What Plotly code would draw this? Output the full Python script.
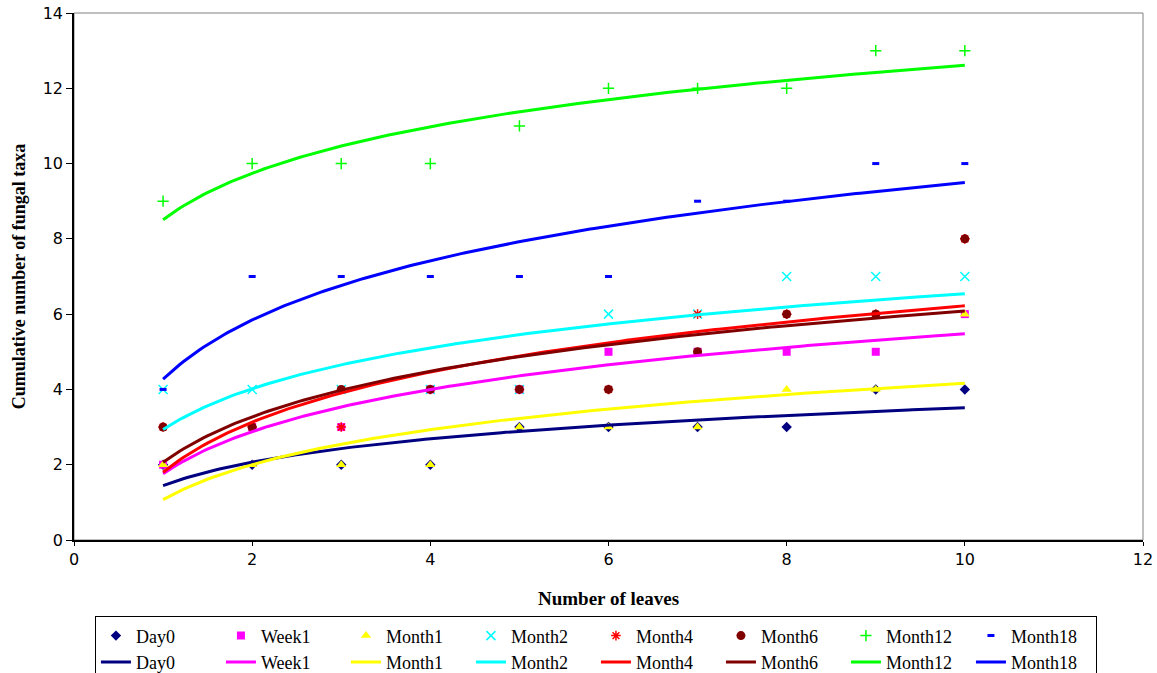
import numpy as np
import plotly.graph_objects as go

leaves = [1, 2, 3, 4, 5, 6, 7, 8, 9, 10]
series_names = ["Day0", "Week1", "Month1", "Month2", "Month4", "Month6", "Month12", "Month18"]
day0 = [2, 2, 2, 2, 3, 3, 3, 3, 4, 4]
week1 = [2, 3, 3, 4, 4, 5, 5, 5, 5, 6]
month1 = [2, 2, 2, 2, 3, 3, 3, 4, 4, 6]
month2 = [4, 4, 4, 4, 4, 6, 6, 7, 7, 7]
month4 = [3, 3, 3, 4, 4, 4, 6, 6, 6, 8]
month6 = [3, 3, 4, 4, 4, 4, 5, 6, 6, 8]
month12 = [9, 10, 10, 10, 11, 12, 12, 12, 13, 13]
month18 = [4, 7, 7, 7, 7, 7, 9, 9, 10, 10]
values = [day0, week1, month1, month2, month4, month6, month12, month18]

colors = ["#000080", "#FF00FF", "#FFFF00", "#00FFFF", "#FF0000", "#800000", "#00FF00", "#0000FF"]
symbols = ["diamond", "square", "triangle-up", "x-thin-open", "asterisk-open", "circle", "cross-thin-open", "line-ew-open"]
sizes = [8, 8, 9, 9, 8, 9, 8, 5]

fig = go.Figure()

for name, ys, c, s, sz in zip(series_names, values, colors, symbols, sizes):
    open_sym = s.endswith("-open")
    lw = 3 if s == "line-ew-open" else 1.5
    fig.add_trace(go.Scatter(
        x=leaves, y=ys, mode="markers", name=name,
        marker=dict(symbol=s, size=sz, color=c,
                    line=dict(color=c, width=lw if open_sym else 0)),
    ))

xs = np.linspace(min(leaves), max(leaves), 200)
for name, ys, c in zip(series_names, values, colors):
    b, a = np.polyfit(np.log(leaves), ys, 1)
    fig.add_trace(go.Scatter(
        x=xs, y=a + b * np.log(xs), mode="lines", name=name,
        line=dict(color=c, width=3),
    ))

tickfont = dict(family="DejaVu Sans", size=16, color="black")

fig.update_layout(
    width=1157, height=673,
    margin=dict(l=74, r=14, t=13, b=133, autoexpand=False),
    plot_bgcolor="white", paper_bgcolor="white",
    showlegend=True,
    legend=dict(
        orientation="h", x=0.0196, xanchor="left", y=-0.145, yanchor="top",
        bordercolor="black", borderwidth=1, bgcolor="white",
        font=dict(family="Liberation Serif", size=18, color="black"),
        entrywidth=80, entrywidthmode="pixels",
        tracegroupgap=0, itemwidth=30,
    ),
    xaxis=dict(
        range=[0, 12], dtick=2, tick0=0, showgrid=False, zeroline=False,
        showline=True, linecolor="black", linewidth=1.5,
        ticks="outside", ticklen=4, tickcolor="black",
        tickfont=tickfont,
        title=dict(text="<b>Number of leaves</b>",
                   font=dict(family="Liberation Serif", size=19, color="black"), standoff=24),
    ),
    yaxis=dict(
        range=[0, 14], dtick=2, tick0=0, showgrid=False, zeroline=False,
        showline=True, linecolor="black", linewidth=1.5,
        ticks="outside", ticklen=6, tickcolor="black",
        tickfont=tickfont,
        title=dict(text="<b>Cumulative number of fungal taxa</b>",
                   font=dict(family="Liberation Serif", size=18, color="black"), standoff=12),
    ),
    shapes=[dict(type="rect", xref="paper", yref="paper", x0=0, y0=0, x1=1, y1=1,
                 line=dict(color="#808080", width=1), layer="below")],
)

fig.write_html("out.html")
